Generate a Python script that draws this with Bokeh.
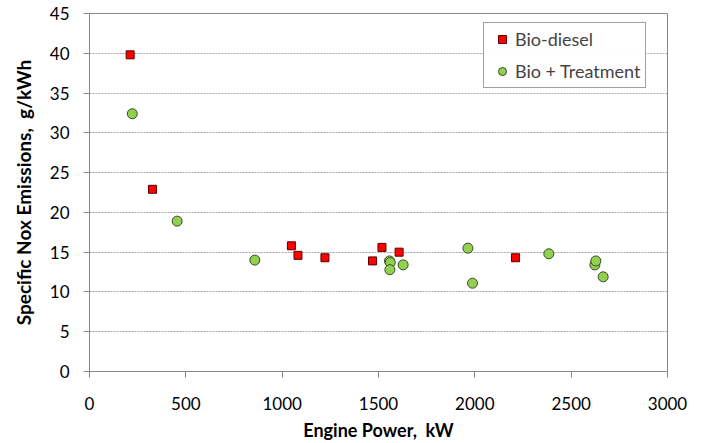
from bokeh.plotting import figure
from bokeh.models import Range1d, FixedTicker, Legend, LegendItem
from bokeh.embed import file_html
from bokeh.resources import INLINE

# Data
bio_x = [211, 327, 1048, 1082, 1222, 1469, 1518, 1607, 2211]
bio_y = [39.8, 22.9, 15.8, 14.6, 14.3, 13.9, 15.6, 15.0, 14.3]

trt_x = [222, 455, 858, 1557, 1561, 1559, 1628, 1964, 1988, 2384, 2623, 2628, 2666]
trt_y = [32.4, 18.9, 14.0, 13.9, 13.7, 12.8, 13.4, 15.5, 11.1, 14.8, 13.4, 13.9, 11.9]

x_ticks = [0, 500, 1000, 1500, 2000, 2500, 3000]
y_ticks = [0, 5, 10, 15, 20, 25, 30, 35, 40, 45]

FONT = "Lato"
AX = "#868686"
NB = "\u00a0"

p = figure(width=703, height=443, output_backend="svg", toolbar_location=None,
           x_range=Range1d(0, 3000), y_range=Range1d(0, 45),
           min_border_left=89, min_border_right=36, min_border_top=13, min_border_bottom=72)

p.outline_line_color = AX
p.outline_line_width = 1

for ax in (p.xaxis[0], p.yaxis[0]):
    ax.axis_line_color = AX
    ax.major_tick_line_color = AX
    ax.major_tick_in = 0
    ax.major_tick_out = 6
    ax.minor_tick_line_color = None
    ax.major_label_text_font = FONT
    ax.major_label_text_font_size = "17px"
    ax.major_label_text_color = "#000000"
    ax.axis_label_text_font = FONT
    ax.axis_label_text_font_style = "bold"
    ax.axis_label_text_color = "#000000"

p.xaxis[0].ticker = FixedTicker(ticks=x_ticks)
p.yaxis[0].ticker = FixedTicker(ticks=y_ticks)
p.xaxis[0].axis_label = "Engine Power," + NB + " kW"
p.yaxis[0].axis_label = "Specific Nox Emissions," + NB + " g/kWh"
p.xaxis[0].axis_label_text_font_size = "18px"
p.yaxis[0].axis_label_text_font_size = "19px"
p.xaxis[0].major_label_standoff = 19
p.yaxis[0].major_label_standoff = 14
p.xaxis[0].axis_label_standoff = 6
p.yaxis[0].axis_label_standoff = 12

p.xgrid.grid_line_color = None
p.ygrid.ticker = FixedTicker(ticks=y_ticks)
p.ygrid.grid_line_color = "#a6a6a6"
p.ygrid.grid_line_dash = "2 1"
p.ygrid.grid_line_width = 1

r1 = p.scatter(bio_x, bio_y, marker="square", size=8, fill_color="#ff0000",
               line_color="#5a0000", line_width=1)
r2 = p.scatter(trt_x, trt_y, marker="circle", size=10, fill_color="#92d050",
               line_color="#3b4a2a", line_width=1)

legend = Legend(items=[LegendItem(label="Bio-diesel", renderers=[r1]),
                       LegendItem(label="Bio + Treatment", renderers=[r2])],
                location=(394, 283))
legend.label_text_font = FONT
legend.label_text_font_size = "18px"
legend.border_line_color = "#404040"
legend.border_line_width = 1
legend.padding = 5
legend.spacing = 10
legend.glyph_width = 26
legend.glyph_height = 20
legend.label_height = 20
legend.label_standoff = 0
legend.margin = 0
p.add_layout(legend, "center")

open("out.html", "w").write(file_html(p, INLINE))
